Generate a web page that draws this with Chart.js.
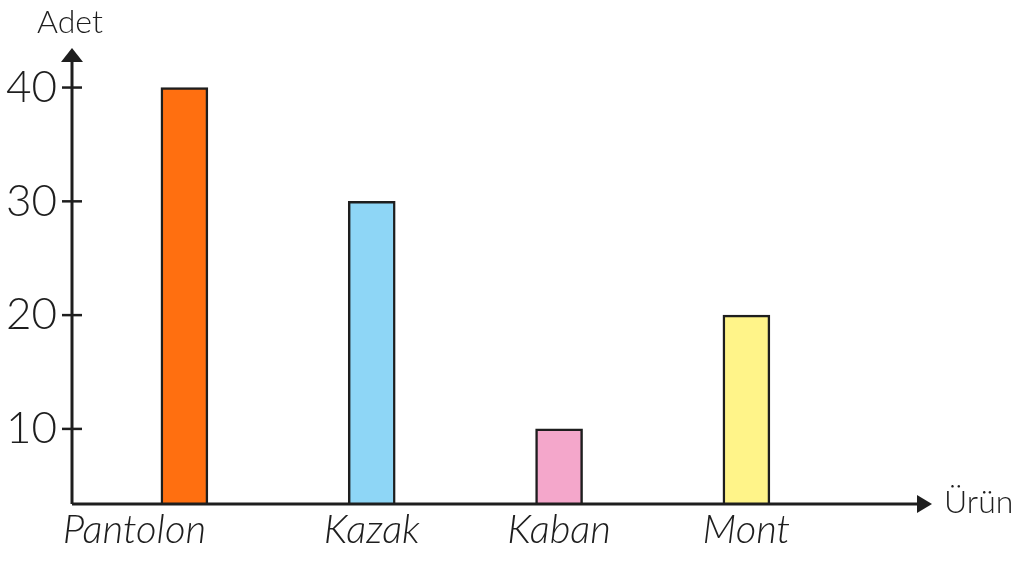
<!DOCTYPE html>
<html>
<head>
<meta charset="utf-8">
<script src="https://cdn.jsdelivr.net/npm/chart.js@4/dist/chart.umd.min.js"></script>
<style>
  html, body { margin: 0; padding: 0; background: #fff; }
  #wrap { width: 1029px; height: 561px; }
</style>
</head>
<body>
<div id="wrap"><canvas id="grafik" width="1029" height="561"></canvas></div>
<script>
// --- Veriler ---
const urunler = ['Pantolon', 'Kazak', 'Kaban', 'Mont'];
const adetler = [40, 30, 10, 20];
const yTikler = [10, 20, 30, 40];
const renkler = ['#FF6F10', '#8ED6F6', '#F4A7CB', '#FFF489'];

const cizgiRengi = '#1e1e1e';

// Eksenleri, okları ve yazıları elle çizen eklenti
const eksenEklentisi = {
    id: 'eksenler',
    afterDatasetsDraw(chart) {
        const ctx = chart.ctx;
        const a = chart.chartArea;
        const x = chart.scales.x;
        const y = chart.scales.y;
        ctx.save();
        ctx.strokeStyle = cizgiRengi;
        ctx.fillStyle = cizgiRengi;
        ctx.lineWidth = 3;

        // y ekseni
        ctx.beginPath();
        ctx.moveTo(a.left, a.bottom);
        ctx.lineTo(a.left, a.top + 8);
        ctx.stroke();
        ctx.beginPath();
        ctx.moveTo(a.left, a.top - 2);
        ctx.lineTo(a.left - 11, a.top + 12);
        ctx.lineTo(a.left + 11, a.top + 12);
        ctx.closePath();
        ctx.fill();

        // x ekseni
        ctx.beginPath();
        ctx.moveTo(a.left, a.bottom);
        ctx.lineTo(a.right - 8, a.bottom);
        ctx.stroke();
        ctx.beginPath();
        ctx.moveTo(a.right + 2, a.bottom);
        ctx.lineTo(a.right - 13, a.bottom - 9);
        ctx.lineTo(a.right - 13, a.bottom + 9);
        ctx.closePath();
        ctx.fill();

        // y tikleri
        ctx.lineWidth = 2.5;
        ctx.font = '300 44px Lato';
        ctx.textAlign = 'right';
        ctx.textBaseline = 'middle';
        yTikler.forEach(v => {
            const py = y.getPixelForValue(v);
            ctx.beginPath();
            ctx.moveTo(a.left - 10, py);
            ctx.lineTo(a.left + 10, py);
            ctx.stroke();
            ctx.fillText(String(v), a.left - 15, py);
        });

        // kategori yazıları
        ctx.font = 'italic 300 40px Lato';
        ctx.textAlign = 'center';
        ctx.textBaseline = 'middle';
        urunler.forEach((ad, i) => {
            ctx.fillText(ad, x.getPixelForValue(i + 1) - (i === 0 ? 50 : 0), a.bottom + 26);
        });

        // eksen başlıkları
        ctx.font = '300 32px Lato';
        ctx.textAlign = 'center';
        ctx.textBaseline = 'alphabetic';
        ctx.fillText('Adet', a.left - 2, 33);
        ctx.textAlign = 'left';
        ctx.textBaseline = 'middle';
        ctx.fillText('Ürün', a.right + 14, a.bottom - 1);
        ctx.restore();
    }
};

const veri = {
    datasets: [{
        label: 'Adet',
        data: urunler.map((u, i) => ({ x: i + 1, y: adetler[i] })),
        backgroundColor: renkler,
        borderColor: cizgiRengi,
        borderWidth: 2.5,
        borderSkipped: 'bottom',
        barThickness: 47
    }]
};

new Chart(document.getElementById('grafik'), {
    type: 'bar',
    data: veri,
    options: {
        responsive: false,
        animation: false,
        layout: { padding: { left: 72, right: 99, top: 50, bottom: 57 } },
        plugins: {
            legend: { display: false },
            tooltip: { enabled: false }
        },
        scales: {
            x: { type: 'linear', min: 0.4, max: 4.98, offset: false, display: false },
            y: { min: 3.4, max: 43.3, display: false }
        }
    },
    plugins: [eksenEklentisi]
});
</script>
</body>
</html>
